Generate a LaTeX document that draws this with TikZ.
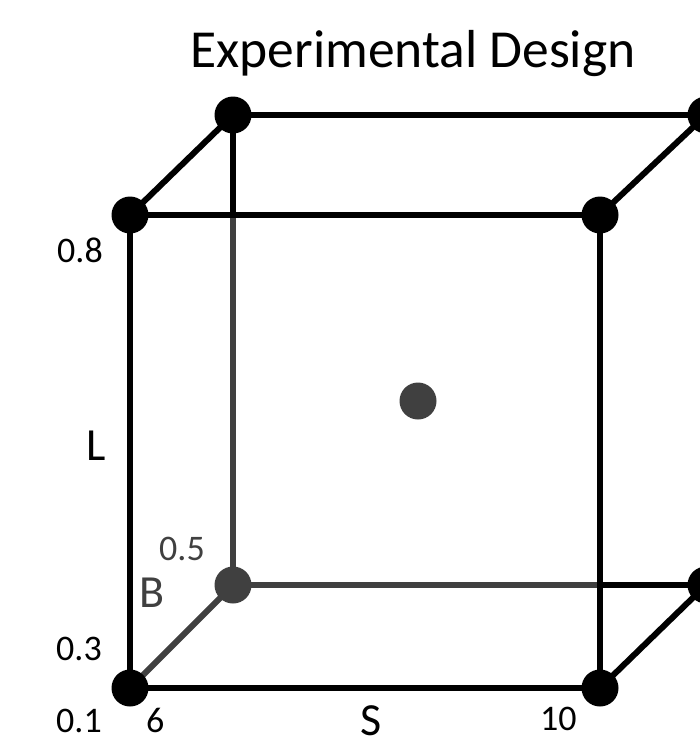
\documentclass[tikz,border=0pt]{standalone}
\usepackage{fontspec}
\setmainfont{Carlito}
\definecolor{hid}{HTML}{404040}
\begin{document}
\begin{tikzpicture}[x=1pt,y=-1pt,
  edge/.style={line width=6pt,black},
  hidedge/.style={line width=6pt,hid},
  vtx/.style={circle,fill=black,minimum size=37pt,inner sep=0pt},
  hvtx/.style={circle,fill=hid,minimum size=37pt,inner sep=0pt},
  lab/.style={inner sep=0pt,anchor=base west,font=\fontsize{36}{40}\selectfont},
  big/.style={inner sep=0pt,anchor=base west,font=\fontsize{46}{50}\selectfont}]
\useasboundingbox[fill=white] (0,0) rectangle (700,737);
% coordinates of the cube
\coordinate (fbl) at (130,688);
\coordinate (fbr) at (600,688);
\coordinate (ftl) at (130,215);
\coordinate (ftr) at (600,215);
\coordinate (bbl) at (233,585);
\coordinate (bbr) at (706,585);
\coordinate (btl) at (233,115);
\coordinate (btr) at (706,115);
\coordinate (x1) at (233,215);
\coordinate (x2) at (600,585);
% hidden edges
\draw[hidedge] (x1) -- (bbl);
\draw[hidedge] (bbl) -- (x2);
\draw[hidedge] (fbl) -- (bbl);
% visible edges
\draw[edge] (btl) -- (x1);
\draw[edge] (x2) -- (bbr);
\draw[edge] (btl) -- (btr);
\draw[edge] (btr) -- (bbr);
\draw[edge] (ftl) -- (btl);
\draw[edge] (ftr) -- (btr);
\draw[edge] (fbr) -- (bbr);
\draw[edge] (ftl) -- (ftr) -- (fbr) -- (fbl) -- cycle;
% vertices
\node[vtx] (nfbl) at (fbl) {};
\node[vtx] (nfbr) at (fbr) {};
\node[vtx] (nftl) at (ftl) {};
\node[vtx] (nftr) at (ftr) {};
\node[vtx] (nbtl) at (btl) {};
\node[vtx] (nbtr) at (btr) {};
\node[vtx] (nbbr) at (bbr) {};
\node[hvtx] (nbbl) at (bbl) {};
\node[hvtx] (center) at (418,401) {};
% labels
\node[inner sep=0pt,anchor=base,font=\fontsize{53.5}{60}\selectfont] (title) at (413,67) {Experimental Design};
\node[lab] (l08) at (57,262) {0.8};
\node[big] (lL) at (86,460) {L};
\node[lab,text=hid] (l05) at (159,560) {0.5};
\node[big,text=hid] (lB) at (139,607) {B};
\node[lab] (l03) at (56,660) {0.3};
\node[lab] (l01) at (56,732) {0.1};
\node[lab] (l6) at (146,732) {6};
\node[big] (lS) at (360,735) {S};
\node[lab] (l10) at (540,730) {10};
\end{tikzpicture}
\end{document}
